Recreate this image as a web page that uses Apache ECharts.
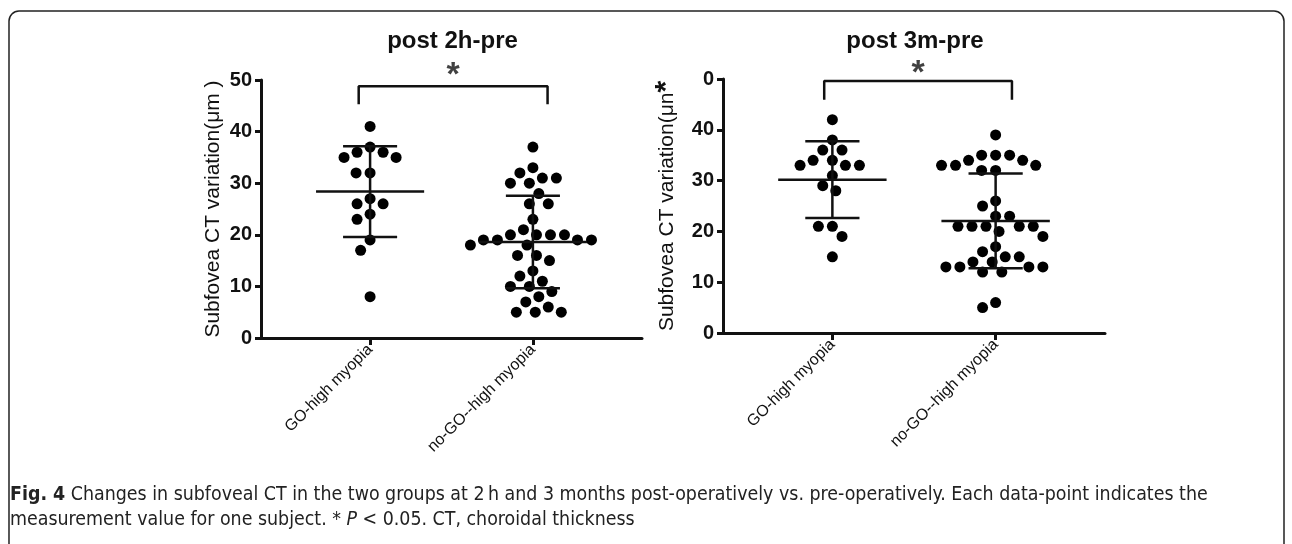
<!DOCTYPE html>
<html>
<head>
<meta charset="utf-8">
<script src="https://cdn.jsdelivr.net/npm/echarts@6/dist/echarts.min.js"></script>
<style>
  html, body { margin: 0; padding: 0; background: #fff; }
  #chart { width: 1292px; height: 544px; }
</style>
</head>
<body>
<div id="chart"></div>
<script>
// x groups, titles, y ticks
const groups = ["GO-high myopia", "no-GO--high myopia"];
const panelTitles = ["post 2h-pre", "post 3m-pre"];
const yTicks = [0, 10, 20, 30, 40, 50];

// CT change (um), post 2h - pre
const h2Go = [41, 37, 36, 36, 35, 35, 32, 32, 27, 26, 26, 24, 23, 19, 17, 8];
const h2NoGo = [37, 33, 32, 31, 31, 30, 30, 28, 26, 26, 23, 21, 20, 20, 20, 20, 19, 19, 19, 19,
  18, 18, 16, 16, 15, 13, 12, 11, 10, 10, 9, 8, 7, 6, 5, 5, 5];
// post 3m - pre
const m3Go = [42, 38, 36, 36, 34, 34, 33, 33, 33, 31, 29, 28, 21, 21, 19, 15];
const m3NoGo = [39, 35, 35, 35, 34, 34, 33, 33, 33, 32, 32, 26, 25, 23, 23, 21, 21, 21, 21, 21,
  20, 19, 17, 16, 15, 15, 14, 14, 13, 13, 13, 13, 12, 12, 6, 5];

// significance bracket: [x1, x2, yTop, yLeg], star y
const bracket2h = [0.93, 2.09, 48.8, 45.3];
const bracket3m = [0.95, 2.10, 49.6, 45.9];
const starY = [50.9, 51.1];

const chart = echarts.init(document.getElementById("chart"));
const INK = "#111";
const FONT = "Liberation Sans";
const CAP_FONT = "'DejaVu Sans Condensed', 'Liberation Sans Narrow', sans-serif";

function meanSd(arr) {
  const m = arr.reduce((a, b) => a + b, 0) / arr.length;
  const v = arr.reduce((a, b) => a + (b - m) * (b - m), 0) / (arr.length - 1);
  return [m, Math.sqrt(v)];
}

const grids = [
  { left: 261, width: 381, top: 80, height: 258 },
  { left: 723, width: 382, top: 79, height: 254 }
];

const xAxes = grids.map((g, i) => ({
  type: "value", gridIndex: i, min: 0.33, max: 2.67,
  splitLine: { show: false },
  axisLine: { onZero: false, lineStyle: { color: INK, width: 3 } },
  axisTick: { show: true, customValues: [1, 2], length: 7, lineStyle: { color: INK, width: 3 } },
  axisLabel: {
    customValues: [1, 2], rotate: 45, margin: 9,
    formatter: v => groups[Math.round(v) - 1] || "",
    fontSize: 16, color: INK, fontFamily: FONT
  }
}));

const yAxes = grids.map((g, i) => ({
  type: "value", gridIndex: i, min: 0, max: 50, interval: 10,
  splitLine: { show: false },
  name: i === 0 ? "Subfovea CT variation(μm )" : "Subfovea CT variation(μn{s|*}",
  nameLocation: "middle",
  nameGap: i === 0 ? 37 : 41,
  nameTextStyle: {
    fontSize: 21, color: INK, fontFamily: FONT,
    rich: { s: { fontSize: 30, fontWeight: "bold", color: INK, fontFamily: FONT } }
  },
  axisLine: { show: true, onZero: false, lineStyle: { color: INK, width: 3 } },
  axisTick: { show: true, length: 6, lineStyle: { color: INK, width: 3 } },
  axisLabel: {
    margin: 9, fontSize: 20, fontWeight: "bold", color: INK, fontFamily: FONT,
    // right panel: top label is clipped to "0" in the figure
    formatter: v => (i === 1 && v === 50 ? "0" : String(v))
  }
}));

function errBars(gridIndex, sets) {
  return {
    type: "custom", xAxisIndex: gridIndex, yAxisIndex: gridIndex, z: 5, clip: false,
    data: sets.map((arr, k) => { const [m, s] = meanSd(arr); return [k + 1, m, s]; }),
    renderItem: (params, api) => {
      const x = api.value(0), m = api.value(1), s = api.value(2);
      const seg = (a, b) => {
        const p1 = api.coord(a), p2 = api.coord(b);
        return { type: "line", shape: { x1: p1[0], y1: p1[1], x2: p2[0], y2: p2[1] },
          style: { stroke: INK, lineWidth: 2.5 } };
      };
      return { type: "group", children: [
        seg([x - 0.332, m], [x + 0.332, m]),
        seg([x, m - s], [x, m + s]),
        seg([x - 0.166, m + s], [x + 0.166, m + s]),
        seg([x - 0.166, m - s], [x + 0.166, m - s])
      ] };
    }
  };
}

function bracketSeries(gridIndex, b, sy) {
  return [{
    type: "line", xAxisIndex: gridIndex, yAxisIndex: gridIndex, clip: false,
    symbol: "none", silent: true,
    lineStyle: { color: INK, width: 2.5 },
    data: [[b[0], b[3]], [b[0], b[2]], [b[1], b[2]], [b[1], b[3]]]
  }, {
    type: "scatter", xAxisIndex: gridIndex, yAxisIndex: gridIndex, clip: false,
    symbolSize: 0, silent: true,
    data: [[(b[0] + b[1]) / 2, sy]],
    label: { show: true, position: "inside", formatter: "*", fontSize: 34,
      fontWeight: "bold", color: INK, fontFamily: FONT }
  }];
}

const option = {
  animation: false,
  backgroundColor: "#fff",
  title: panelTitles.map((t, i) => ({
    text: t, left: grids[i].left + grids[i].width / 2 - 4, top: 24, textAlign: "center",
    textStyle: { fontSize: 24, fontWeight: "bold", color: INK, fontFamily: FONT }
  })),
  grid: grids,
  xAxis: xAxes,
  yAxis: yAxes,
  graphic: [{
    type: "rect", silent: true,
    shape: { x: 9, y: 11, width: 1275, height: 570, r: 10 },
    style: { fill: "none", stroke: "#222", lineWidth: 1.5 }
  }, {
    type: "text", left: 10, top: 482, silent: true,
    style: {
      text: "{b|Fig. 4} Changes in subfoveal CT in the two groups at 2\u2009h and 3 months post-operatively vs. pre-operatively. Each data-point indicates the\n" +
        "measurement value for one subject. * {i|P} < 0.05. CT, choroidal thickness",
      font: "19.4px " + CAP_FONT,
      fill: "#222", lineHeight: 25,
      rich: {
        b: { fontWeight: "bold", fontSize: 19.4, fontFamily: CAP_FONT, fill: "#222", lineHeight: 25 },
        i: { fontStyle: "italic", fontSize: 19.4, fontFamily: CAP_FONT, fill: "#222", lineHeight: 25 }
      }
    }
  }],
  series: [
    errBars(0, [h2Go, h2NoGo]),
    errBars(1, [m3Go, m3NoGo]),
    ...bracketSeries(0, bracket2h, starY[0]),
    ...bracketSeries(1, bracket3m, starY[1])
  ]
};
chart.setOption(option);

// beeswarm: place each point as close to its group centre as it can without overlap
function swarm(values, xc, gridIndex, d) {
  const placed = [];
  const out = new Array(values.length);
  const cx = chart.convertToPixel({ gridIndex }, [xc, 0])[0];
  const order = values.map((v, i) => i).sort((a, b) => values[b] - values[a]);
  order.forEach(i => {
    const py = chart.convertToPixel({ gridIndex }, [xc, values[i]])[1];
    const cand = [0];
    const blocks = [];
    placed.forEach(p => {
      const dy = Math.abs(p.y - py);
      if (dy < d) {
        const w = Math.sqrt(d * d - dy * dy);
        blocks.push([p.x - w, p.x + w]);
        cand.push(p.x - w, p.x + w);
      }
    });
    cand.sort((a, b) => Math.abs(a) - Math.abs(b));
    const dx = cand.find(c => blocks.every(b => c <= b[0] + 1e-6 || c >= b[1] - 1e-6));
    placed.push({ x: dx, y: py });
    out[i] = [chart.convertFromPixel({ gridIndex }, [cx + dx, py])[0], values[i]];
  });
  return out;
}

const dotSeries = (gridIndex, data) => ({
  type: "scatter", xAxisIndex: gridIndex, yAxisIndex: gridIndex, clip: false,
  symbolSize: 11, itemStyle: { color: "#000", opacity: 1 }, z: 3, data
});

chart.setOption({
  series: option.series.concat([
    dotSeries(0, swarm(h2Go, 1, 0, 14)),
    dotSeries(0, swarm(h2NoGo, 2, 0, 14)),
    dotSeries(1, swarm(m3Go, 1, 1, 14)),
    dotSeries(1, swarm(m3NoGo, 2, 1, 14))
  ])
});
</script>
</body>
</html>
